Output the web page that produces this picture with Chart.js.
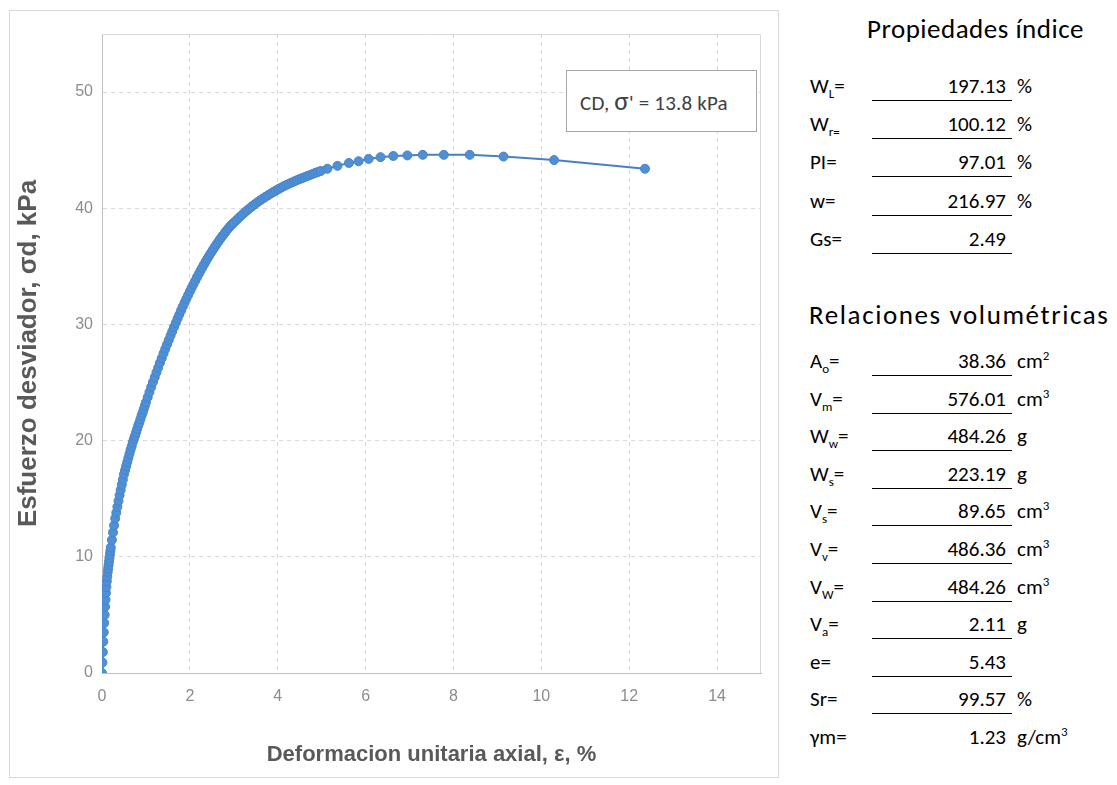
<!DOCTYPE html>
<html>
<head>
<meta charset="utf-8">
<script src="https://cdn.jsdelivr.net/npm/chart.js@4.4.1/dist/chart.umd.min.js"></script>
<style>
  body { margin: 0; background: #fff; width: 1117px; height: 785px; position: relative; overflow: hidden; }
  #frame { position: absolute; left: 9px; top: 10px; width: 768px; height: 766px; border: 1px solid #d9d9d9; }
  #legendBox { position: absolute; left: 566px; top: 70px; width: 191px; height: 62px; border: 1px solid #a6a6a6; background: #fff;
    font-family: Carlito, Calibri, Lato, sans-serif; font-size: 21px; color: #404040; line-height: 60px; padding-left: 13px; box-sizing: border-box; letter-spacing: 0.2px; white-space: nowrap; }
  #legendBox .sig { font-size: 27px; }
  .panel { position: absolute; font-family: Carlito, Calibri, Lato, sans-serif; color: #000; }
  .head { font-size: 27px; }
  .lbl { position: absolute; left: 810px; font-size: 21px; }
  .val { position: absolute; right: 111px; font-size: 21px; text-align: right; }
  .unit { position: absolute; left: 1017px; font-size: 21px; }
  .line { position: absolute; left: 872px; width: 140px; height: 0; border-top: 1.5px solid #000; }
  sub, sup { font-size: 13px; }
</style>
</head>
<body>
<div id="frame"><canvas id="stressChart" width="768" height="766"></canvas></div>
<div id="legendBox">CD, <span class="sig">σ</span>' = 13.8 kPa</div>
<div id="panel"></div>
<script>
// axial strain (%) and deviator stress (kPa)
const strain = [
  0, 0.01, 0.02, 0.03, 0.04, 0.05, 0.06, 0.07, 0.08, 0.09, 0.10, 0.11, 0.12, 0.13, 0.14, 0.15, 0.16, 0.17, 0.18, 0.19, 0.20,
  0.225, 0.25, 0.275, 0.30, 0.325, 0.35, 0.375, 0.40, 0.425, 0.45, 0.475, 0.50, 0.525, 0.55, 0.575, 0.60, 0.625, 0.65,
  0.675, 0.70, 0.725, 0.75, 0.775, 0.80, 0.825, 0.85, 0.875, 0.90, 0.925, 0.95, 0.975, 1.00,
  1.04, 1.08, 1.12, 1.16, 1.20, 1.24, 1.28, 1.32, 1.36, 1.40, 1.44, 1.48, 1.52, 1.56, 1.60, 1.64, 1.68, 1.72, 1.76, 1.80,
  1.84, 1.88, 1.92, 1.96, 2.00, 2.04, 2.08, 2.12, 2.16, 2.20, 2.24, 2.28, 2.32, 2.36, 2.40, 2.44, 2.48, 2.52, 2.56, 2.60,
  2.64, 2.68, 2.72, 2.76, 2.80, 2.84, 2.88, 2.92, 2.96, 3.00,
  3.06, 3.12, 3.18, 3.24, 3.30, 3.36, 3.42, 3.48, 3.54, 3.60, 3.66, 3.72, 3.78, 3.84, 3.90, 3.96, 4.02, 4.08, 4.14, 4.20,
  4.26, 4.32, 4.38, 4.44, 4.50, 4.56, 4.62, 4.68, 4.74, 4.80, 4.86, 4.92, 4.98,
  5.13, 5.36, 5.62, 5.84, 6.07, 6.34, 6.63, 6.95, 7.30, 7.78, 8.37, 9.14, 10.29, 12.36];
const stress = [
  0, 0.9, 1.8, 2.7, 3.5, 4.3, 5.0, 5.7, 6.3, 6.9, 7.4, 7.9, 8.3, 8.7, 9.0, 9.3, 9.6, 9.9, 10.2, 10.5, 10.8,
  11.45, 12.1, 12.7, 13.3, 13.8, 14.3, 14.8, 15.3, 15.75, 16.2, 16.65, 17.1, 17.45, 17.8, 18.15, 18.5, 18.85, 19.2,
  19.5, 19.85, 20.15, 20.4, 20.7, 21.0, 21.3, 21.55, 21.85, 22.15, 22.4, 22.7, 23.0, 23.3,
  23.74, 24.18, 24.61, 25.04, 25.46, 25.88, 26.29, 26.7, 27.1, 27.5, 27.89, 28.28, 28.66, 29.04, 29.41, 29.78, 30.14, 30.5, 30.85, 31.2,
  31.54, 31.87, 32.2, 32.52, 32.84, 33.15, 33.45, 33.75, 34.04, 34.33, 34.61, 34.88, 35.15, 35.41, 35.67, 35.92, 36.16, 36.4, 36.63, 36.86,
  37.08, 37.3, 37.51, 37.71, 37.91, 38.1, 38.29, 38.47, 38.62, 38.76,
  38.98, 39.2, 39.41, 39.61, 39.81, 40.0, 40.18, 40.35, 40.52, 40.68, 40.83, 40.98, 41.12, 41.26, 41.4, 41.53, 41.66, 41.78, 41.9, 42.01,
  42.12, 42.22, 42.32, 42.42, 42.51, 42.6, 42.69, 42.78, 42.87, 42.96, 43.05, 43.13, 43.21,
  43.4, 43.65, 43.9, 44.05, 44.25, 44.4, 44.5, 44.55, 44.6, 44.6, 44.6, 44.45, 44.15, 43.4];
const xTicks = [0, 2, 4, 6, 8, 10, 12, 14];
const yTicks = [0, 10, 20, 30, 40, 50];

// right-hand tables: label html, value, unit html
const indexLabels = ['W<sub>L</sub>=', 'W<sub>r=</sub>', 'PI=', 'w=', 'Gs='];
const indexValues = ['197.13', '100.12', '97.01', '216.97', '2.49'];
const indexUnits = ['%', '%', '%', '%', ''];
const volLabels = ['A<sub>o</sub>=', 'V<sub>m</sub>=', 'W<sub>w</sub>=', 'W<sub>s</sub>=', 'V<sub>s</sub>=', 'V<sub>v</sub>=',
  'V<sub>W</sub>=', 'V<sub>a</sub>=', 'e=', 'Sr=', 'γm='];
const volValues = ['38.36', '576.01', '484.26', '223.19', '89.65', '486.36', '484.26', '2.11', '5.43', '99.57', '1.23'];
const volUnits = ['cm<sup>2</sup>', 'cm<sup>3</sup>', 'g', 'g', 'cm<sup>3</sup>', 'cm<sup>3</sup>', 'cm<sup>3</sup>', 'g', '', '%', 'g/cm<sup>3</sup>'];

const points = strain.map((x, i) => ({ x: x, y: stress[i] }));

const plotBorder = {
  id: 'plotBorder',
  afterDraw(chart) {
    const a = chart.chartArea, c = chart.ctx;
    c.save();
    c.strokeStyle = '#d9d9d9';
    c.lineWidth = 1;
    c.beginPath();
    c.moveTo(a.left, a.top + 0.5);
    c.lineTo(a.right - 0.5, a.top + 0.5);
    c.lineTo(a.right - 0.5, a.bottom);
    c.stroke();
    c.restore();
  }
};

const tickFont = { family: "'Liberation Sans Narrow', 'Liberation Sans', Arial, sans-serif", size: 16 };

const ctx = document.getElementById('stressChart').getContext('2d');
const stressChart = new Chart(ctx, {
  type: 'scatter',
  data: {
    datasets: [{
      label: "CD, σ' = 13.8 kPa",
      data: points,
      showLine: true,
      borderColor: '#4a7fc0',
      borderWidth: 2,
      pointRadius: 4.5,
      pointBackgroundColor: '#4f8fd6',
      pointBorderColor: '#4a84c8',
      pointBorderWidth: 1
    }]
  },
  options: {
    responsive: false,
    animation: false,
    layout: { padding: { left: 0, top: 23, right: 17, bottom: 0 } },
    plugins: { legend: { display: false }, tooltip: { enabled: false } },
    scales: {
      x: {
        type: 'linear',
        min: 0,
        max: 15,
        afterBuildTicks: s => { s.ticks = xTicks.map(v => ({ value: v })); },
        afterFit: s => { s.height = 104; },
        ticks: { color: '#8c8c8c', font: tickFont, padding: 14, maxRotation: 0 },
        grid: { color: '#d9d9d9', drawTicks: false },
        border: { color: '#bfbfbf', dash: [4, 4] },
        title: { display: true, text: 'Deformacion unitaria axial, ε, %', color: '#595959',
          font: { family: "'Liberation Sans', Arial, sans-serif", size: 22, weight: 'bold' }, padding: { top: 0, bottom: 9 } }
      },
      y: {
        min: 0,
        max: 55,
        afterBuildTicks: s => { s.ticks = yTicks.map(v => ({ value: v })); },
        afterFit: s => { s.width = 92; },
        ticks: { color: '#8c8c8c', font: tickFont, padding: 9 },
        grid: { color: '#d9d9d9', drawTicks: false },
        border: { color: '#bfbfbf', dash: [4, 4] },
        title: { display: true, text: 'Esfuerzo desviador, σd, kPa', color: '#595959',
          font: { family: "'Liberation Sans', Arial, sans-serif", size: 26, weight: 'bold' }, padding: { top: 3, bottom: 0 } }
      }
    }
  },
  plugins: [plotBorder]
});

// build the side panel
const panel = document.getElementById('panel');
function addHead(text, left, top, spacing) {
  const d = document.createElement('div');
  d.className = 'panel head';
  d.style.left = left + 'px';
  d.style.top = top + 'px';
  d.style.letterSpacing = spacing + 'px';
  d.textContent = text;
  panel.appendChild(d);
}
function addRows(labels, values, units, top0, pitch, lastLine) {
  labels.forEach((lbl, i) => {
    const top = top0 + i * pitch;
    const l = document.createElement('div');
    l.className = 'panel lbl'; l.style.top = top + 'px'; l.innerHTML = lbl;
    const v = document.createElement('div');
    v.className = 'panel val'; v.style.top = top + 'px'; v.textContent = values[i];
    const u = document.createElement('div');
    u.className = 'panel unit'; u.style.top = top + 'px'; u.innerHTML = units[i];
    panel.appendChild(l); panel.appendChild(v); panel.appendChild(u);
    if (i < labels.length - 1 || lastLine) {
      const ln = document.createElement('div');
      ln.className = 'panel line'; ln.style.top = (top + 27) + 'px';
      panel.appendChild(ln);
    }
  });
}
addHead('Propiedades índice', 867, 12, 0.5);
addRows(indexLabels, indexValues, indexUnits, 73, 38.2, true);
addHead('Relaciones volumétricas', 809, 298, 1.6);
addRows(volLabels, volValues, volUnits, 348, 37.6, false);
</script>
</body>
</html>
